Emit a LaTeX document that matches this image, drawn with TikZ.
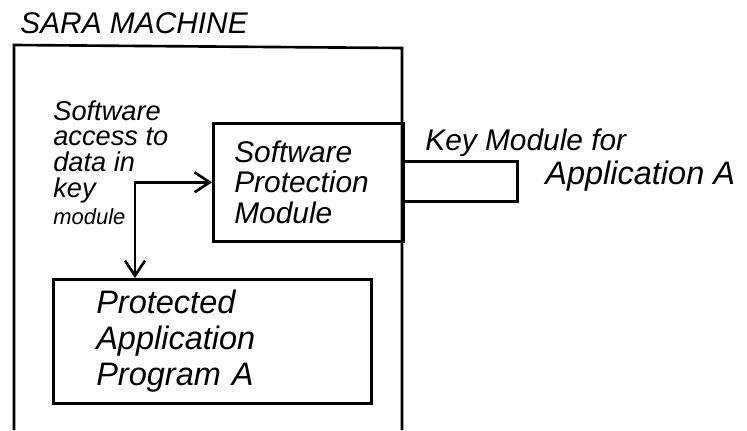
\documentclass[tikz,border=0pt]{standalone}
\usepackage{fontspec}
\setmainfont{Liberation Sans}
\usetikzlibrary{arrows.meta}
\begin{document}
\begin{tikzpicture}[x=0.02cm,y=-0.02cm,
  box/.style={draw,line width=1.5pt,anchor=north west,inner ysep=0pt},
  hand/.style={font=\itshape\fontsize{17}{18}\selectfont,align=left},
  note/.style={font=\itshape\fontsize{15.5}{14.6}\selectfont,align=left,inner sep=0pt},
  link/.style={line width=1.5pt,{Straight Barb[length=0.3cm,width=0.4cm]}-{Straight Barb[length=0.3cm,width=0.4cm]}}]
\useasboundingbox (0,0) rectangle (747,430);

\node[hand,anchor=base west,inner sep=0pt] (title) at (20,33) {SARA MACHINE};
\draw[line width=1.5pt] (14,430) -- (14,45) -- (402,48) -- (402,430);

\node[box,hand,minimum width=3.8cm,minimum height=2.36cm,inner xsep=0.42cm,text width=2.96cm,font=\itshape\fontsize{17}{17.6}\selectfont] (spm) at (212,122) {Software\\Protection\\Module};
\node[box,minimum width=2.28cm,minimum height=0.8cm] (key) at (402,160) {};
\node[box,hand,minimum width=6.36cm,minimum height=2.48cm,inner xsep=0.86cm,text width=4.64cm,font=\itshape\fontsize{18.5}{20.5}\selectfont] (prog) at (52,278) {Protected\\Application\\Program A};

\node[note,anchor=north west] (access) at (53,100) {Software\\access to\\data in\\key\\[1pt]{\fontsize{12.5}{14}\selectfont module}};
\node[hand,anchor=base west,inner sep=0pt] (keylbl) at (425,150) {Key Module for};
\node[hand,anchor=base west,inner sep=0pt,font=\itshape\fontsize{18.5}{18}\selectfont] (applbl) at (545,184) {Application A};

\coordinate (corner) at (135,181);
\draw[link] (spm.west) -| (prog.north -| corner);
\end{tikzpicture}
\end{document}
